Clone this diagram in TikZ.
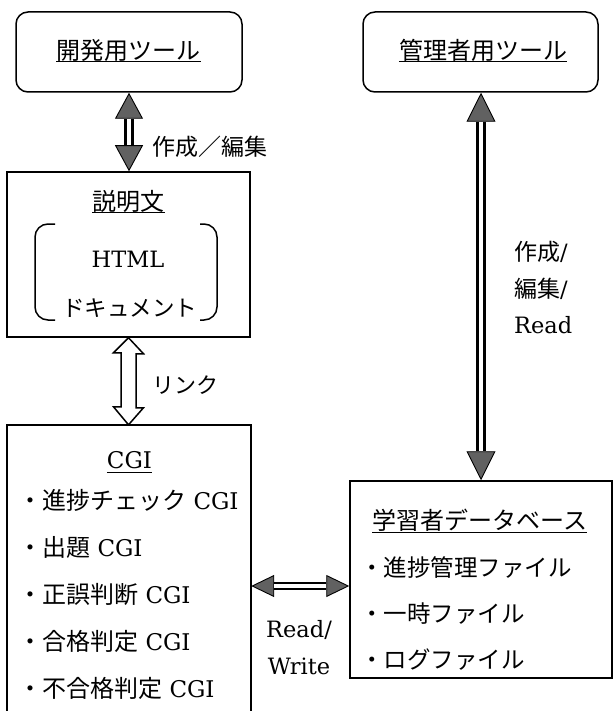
\documentclass[tikz,border=0pt]{standalone}
\usepackage{fontspec}
\setmainfont{DejaVu Serif}
\newfontfamily\jp{Noto Sans CJK JP}
\usetikzlibrary{arrows.meta,calc}
\begin{document}
\begin{tikzpicture}[x=1pt,y=-1pt,
  box/.style={draw, line width=1.5pt, inner sep=0pt},
  rbox/.style={box, rounded corners=12pt},
  jtxt/.style={inner sep=0pt, font=\jp\fontsize{24}{36.5}\selectfont},
  itm/.style={inner sep=0pt, anchor=west, font=\fontsize{23}{30}\selectfont},
  ltxt/.style={inner sep=0pt, font=\fontsize{22.5}{37}\selectfont},
  uline/.style={line width=1pt},
  headsL/.style={line width=0.9pt,
    {Triangle[length=26pt,width=28pt,fill=black!62]}-{Triangle[length=26pt,width=28pt,fill=black!62]}},
  shaftL/.style={line width=3.5pt, double, double distance=3.5pt, shorten <=26pt, shorten >=26pt},
  headsM/.style={line width=0.9pt,
    {Triangle[length=29pt,width=29pt,fill=black!62]}-{Triangle[length=29pt,width=29pt,fill=black!62]}},
  shaftM/.style={line width=3.2pt, double, double distance=4pt, shorten <=29pt, shorten >=29pt},
  headsS/.style={line width=0.9pt,
    {Triangle[length=23pt,width=22pt,fill=black!62]}-{Triangle[length=23pt,width=22pt,fill=black!62]}},
  shaftS/.style={line width=2pt, double, double distance=4pt, shorten <=23pt, shorten >=23pt},
]
\useasboundingbox (0,0) rectangle (614,711);

% top boxes
\node[rbox, minimum width=226pt, minimum height=80pt] (m1) at (129,52) {};
\node[jtxt] (t1) at (128.5,50) {開発用ツール};
\draw[uline] ($(t1.west)+(0,12)$) -- ($(t1.east)+(0,12)$);

\node[rbox, minimum width=235pt, minimum height=80pt] (m2) at (480.5,52) {};
\node[jtxt] (t2) at (483,50) {管理者用ツール};
\draw[uline] ($(t2.west)+(0,12)$) -- ($(t2.east)+(0,12)$);

% description box
\node[box, minimum width=243pt, minimum height=165pt] (desc) at (128.5,254.5) {};
\node[jtxt] (t3) at (128.5,201) {説明文};
\draw[uline] ($(t3.west)+(0,12)$) -- ($(t3.east)+(0,12)$);
\node[ltxt] (html) at (128,259) {HTML};
\node[jtxt, font=\jp\fontsize{22.5}{26}\selectfont] (doc) at (129.5,308) {ドキュメント};
\draw[line width=1.5pt, rounded corners=13pt] (55,224) -- (35,224) -- (35,320) -- (55,320);
\draw[line width=1.5pt, rounded corners=13pt] (200,224) -- (217,224) -- (217,320) -- (200,320);

% CGI box (open at the bottom edge of the picture)
\node[inner sep=0pt, minimum width=244pt, minimum height=286pt] (cgi) at (129,568) {};
\draw[line width=1.5pt] (cgi.south west) |- (cgi.north east) -- (cgi.south east);
\node[ltxt, font=\fontsize{23}{30}\selectfont] (t4) at (129.5,460) {CGI};
\draw[uline] ($(t4.west)+(0,12)$) -- ($(t4.east)+(0,12)$);
\node[itm] (c1) at (18,500) {{\jp\fontsize{24}{30}\selectfont ・進捗チェック} CGI};
\node[itm] (c2) at (18,547) {{\jp\fontsize{24}{30}\selectfont ・出題} CGI};
\node[itm] (c3) at (18,594) {{\jp\fontsize{24}{30}\selectfont ・正誤判断} CGI};
\node[itm] (c4) at (18,641) {{\jp\fontsize{24}{30}\selectfont ・合格判定} CGI};
\node[itm] (c5) at (18,688) {{\jp\fontsize{24}{30}\selectfont ・不合格判定} CGI};

% learner database box
\node[box, minimum width=262pt, minimum height=197pt] (db) at (481,579.5) {};
\node[jtxt, anchor=west] (t5) at (372,520) {学習者データベース};
\draw[uline] ($(t5.west)+(0,12)$) -- ($(t5.east)+(0,12)$);
\node[jtxt, anchor=west, font=\jp\fontsize{23.5}{28}\selectfont] (d1) at (360,568) {・進捗管理ファイル};
\node[jtxt, anchor=west, font=\jp\fontsize{23.5}{28}\selectfont] (d2) at (360,614) {・一時ファイル};
\node[jtxt, anchor=west, font=\jp\fontsize{23.5}{28}\selectfont] (d3) at (360,660) {・ログファイル};

% connectors
\draw[headsL] (m1.south) -- (m1.south |- desc.north);
\draw[shaftL] (m1.south) -- (m1.south |- desc.north);
\node[jtxt, anchor=west, font=\jp\fontsize{23}{28}\selectfont] (l1) at (152,147) {作成／編集};

\draw[headsM] (db.north |- m2.south) -- (db.north);
\draw[shaftM] (db.north |- m2.south) -- (db.north);
\node[inner sep=0pt, anchor=west, align=left, font=\fontsize{22.5}{36.5}\selectfont] (l2) at (514,288)
  {{\jp\fontsize{23}{36.5}\selectfont 作成}/\\{\jp\fontsize{23}{36.5}\selectfont 編集}/\\Read};

\coordinate (rwy) at (300,586);
\draw[headsS] (cgi.east |- rwy) -- (db.west |- rwy);
\draw[shaftS] (cgi.east |- rwy) -- (db.west |- rwy);
\node[ltxt, align=center] (l3) at (299,648) {Read/\\Write};

\draw[line width=1.5pt, fill=white, line join=miter]
  (desc.south) -- ++(15,16) -- ++(-7.5,0) -- ++(0,54) -- ++(7.5,0)
  -- (desc.south |- cgi.north) -- ++(-15,-18) -- ++(7.5,0) -- ++(0,-54) -- ++(-7.5,0) -- cycle;
\node[jtxt, anchor=west, font=\jp\fontsize{22}{26}\selectfont] (l4) at (152,385) {リンク};
\end{tikzpicture}
\end{document}
